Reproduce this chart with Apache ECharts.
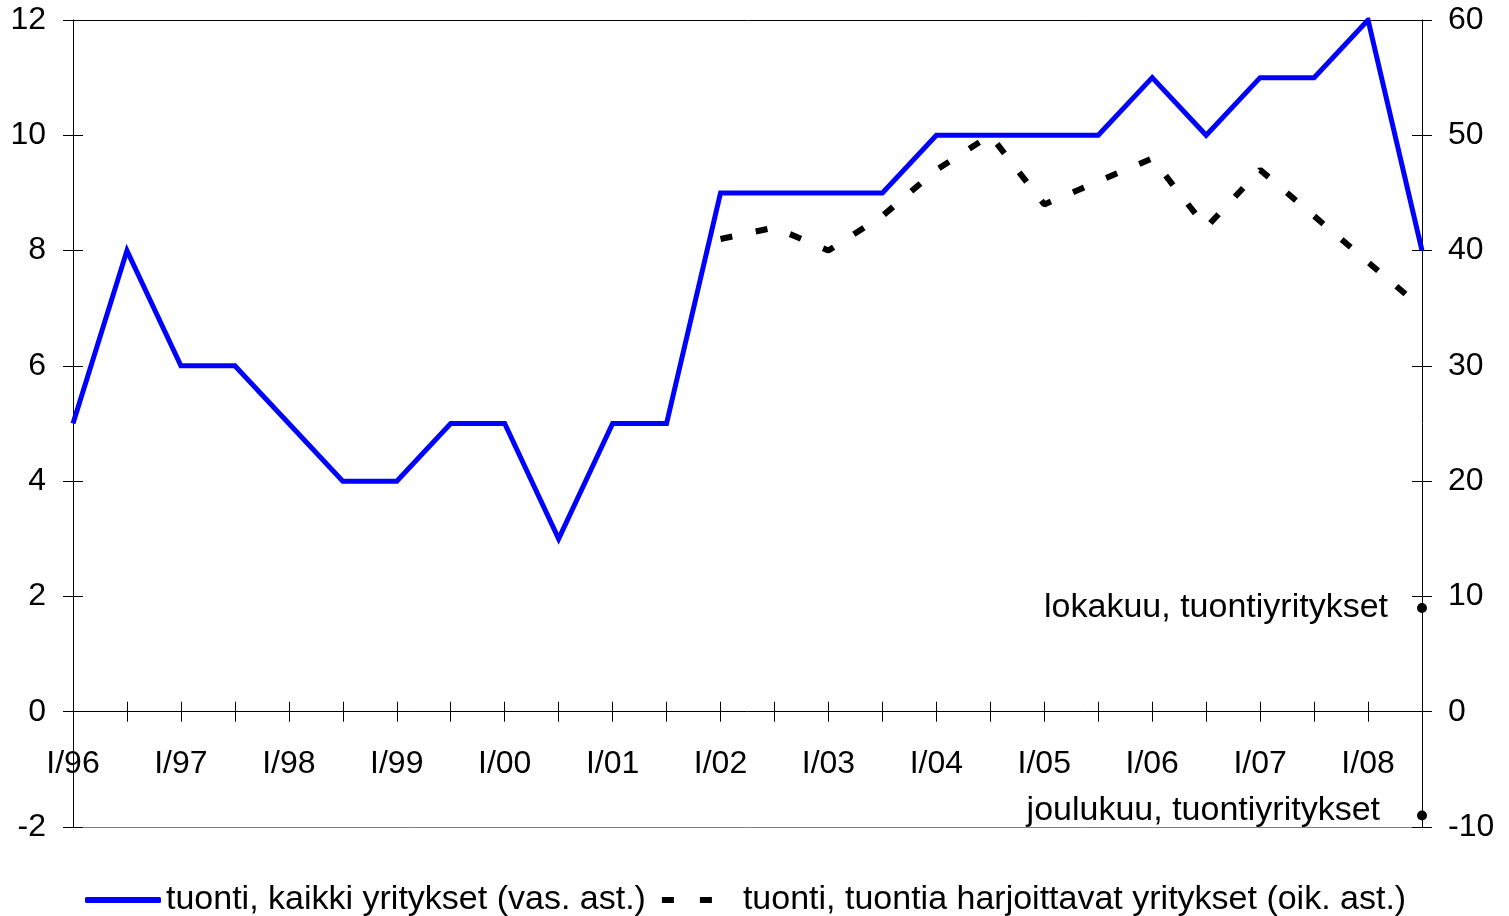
<!DOCTYPE html>
<html>
<head>
<meta charset="utf-8">
<script src="https://cdn.jsdelivr.net/npm/echarts@6/dist/echarts.min.js"></script>
<style>html,body{margin:0;padding:0;background:#fff;}#c{width:1509px;height:916px;}</style>
</head>
<body>
<div id="c"></div>
<script>
const categories = ['I/96','II/96','I/97','II/97','I/98','II/98','I/99','II/99','I/00','II/00','I/01','II/01','I/02','II/02','I/03','II/03','I/04','II/04','I/05','II/05','I/06','II/06','I/07','II/07','I/08','II/08'];
const allFirms = [5,8,6,6,5,4,4,5,5,3,5,5,9,9,9,9,10,10,10,10,11,10,11,11,12,8];
const importFirms = [null,null,null,null,null,null,null,null,null,null,null,null,41,42,40,43,47,50,44,46,48,42,47,43,39,35];
const octoberValue = 9;
const decemberValue = -9;
const leftTicks = {min: -2, max: 12, interval: 2};
const rightTicks = {min: -10, max: 60, interval: 10};
const seriesNames = ['tuonti, kaikki yritykset (vas. ast.)', 'tuonti, tuontia harjoittavat yritykset (oik. ast.)'];
const octoberLabel = 'lokakuu, tuontiyritykset';
const decemberLabel = 'joulukuu, tuontiyritykset';

const FONT = "'Liberation Sans', Arial, sans-serif";
const FS = 32;
const FSL = 34;
const lastIdx = categories.length - 1;
const octData = categories.map((c, i) => i === lastIdx ? octoberValue : null);
const decData = categories.map((c, i) => i === lastIdx ? decemberValue : null);

const chart = echarts.init(document.getElementById('c'), null, {renderer: 'canvas'});
const baseX = {type: 'category', data: categories, boundaryGap: false, gridIndex: 0};
chart.setOption({
  animation: false,
  backgroundColor: '#fff',
  textStyle: {fontFamily: FONT},
  grid: {left: 73, right: 87, top: 20, bottom: 89, containLabel: false},
  legend: {
    top: 878, left: 80, itemGap: 16, itemWidth: 76, itemHeight: 6,
    textStyle: {fontFamily: FONT, fontSize: FSL, color: '#000'},
    data: [
      {name: seriesNames[0], icon: 'roundRect', itemStyle: {color: '#0000ff'}},
      {name: seriesNames[1], icon: 'path://M0,0H12V6H0Z M38,0H50V6H38Z M76,0L76,6L76,0Z', itemStyle: {color: '#000'}}
    ]
  },
  xAxis: [
    Object.assign({}, baseX, {
      position: 'bottom',
      axisLine: {onZero: true, onZeroAxisIndex: 0, lineStyle: {color: '#000', width: 1}},
      axisTick: {show: true, interval: 0, length: 10, lineStyle: {color: '#000'}},
      axisLabel: {show: false},
      splitLine: {show: false}
    }),
    Object.assign({}, baseX, {
      position: 'bottom',
      axisLine: {show: false, onZero: true, onZeroAxisIndex: 0},
      axisTick: {show: true, inside: true, interval: 0, length: 10, lineStyle: {color: '#000'}},
      axisLabel: {show: false}, splitLine: {show: false}
    }),
    Object.assign({}, baseX, {
      position: 'top',
      axisLine: {show: true, onZero: false, lineStyle: {color: '#000'}},
      axisTick: {show: false}, axisLabel: {show: false}, splitLine: {show: false}
    }),
    Object.assign({}, baseX, {
      position: 'bottom',
      axisLine: {show: true, onZero: false, lineStyle: {color: '#808080'}},
      axisTick: {show: false},
      axisLabel: {show: true, inside: true, interval: 1, margin: 47, color: '#000', fontSize: FS, fontFamily: FONT},
      splitLine: {show: false}
    })
  ],
  yAxis: [
    {type: 'value', position: 'left', min: leftTicks.min, max: leftTicks.max, interval: leftTicks.interval,
     axisLine: {show: true, onZero: false, lineStyle: {color: '#000'}},
     axisTick: {show: true, length: 10, lineStyle: {color: '#000'}},
     axisLabel: {margin: 27, color: '#000', fontSize: FS, fontFamily: FONT},
     splitLine: {show: false}},
    {type: 'value', position: 'right', min: rightTicks.min, max: rightTicks.max, interval: rightTicks.interval,
     axisLine: {show: true, onZero: false, lineStyle: {color: '#000'}},
     axisTick: {show: true, length: 10, lineStyle: {color: '#000'}},
     axisLabel: {margin: 26, color: '#000', fontSize: FS, fontFamily: FONT},
     splitLine: {show: false}},
    {type: 'value', position: 'left', min: leftTicks.min, max: leftTicks.max, interval: leftTicks.interval,
     axisLine: {show: false, onZero: false},
     axisTick: {show: true, inside: true, length: 10, lineStyle: {color: '#000'}},
     axisLabel: {show: false}, splitLine: {show: false}},
    {type: 'value', position: 'right', min: rightTicks.min, max: rightTicks.max, interval: rightTicks.interval,
     axisLine: {show: false, onZero: false},
     axisTick: {show: true, inside: true, length: 10, lineStyle: {color: '#000'}},
     axisLabel: {show: false}, splitLine: {show: false}}
  ],
  series: [
    {name: seriesNames[0], type: 'line', xAxisIndex: 0, yAxisIndex: 0, data: allFirms,
     symbol: 'none', lineStyle: {color: '#0000ff', width: 5, join: 'miter'}, itemStyle: {color: '#0000ff'}, z: 3},
    {name: seriesNames[1], type: 'line', xAxisIndex: 0, yAxisIndex: 1, data: importFirms,
     symbol: 'none', connectNulls: false,
     lineStyle: {color: '#000', width: 6, type: [12, 24], cap: 'butt'}, itemStyle: {color: '#000'}, z: 2},
    {name: 'oct', type: 'scatter', xAxisIndex: 0, yAxisIndex: 1, data: octData,
     symbol: 'circle', symbolSize: 10, itemStyle: {color: '#000', opacity: 1},
     label: {show: true, position: 'left', distance: 29, formatter: octoberLabel, color: '#000', fontSize: FSL, fontFamily: FONT}},
    {name: 'dec', type: 'scatter', xAxisIndex: 0, yAxisIndex: 1, data: decData,
     symbol: 'circle', symbolSize: 10, itemStyle: {color: '#000', opacity: 1},
     label: {show: true, position: 'left', distance: 37, offset: [0, -5], formatter: decemberLabel, color: '#000', fontSize: FSL, fontFamily: FONT}}
  ]
});
</script>
</body>
</html>
